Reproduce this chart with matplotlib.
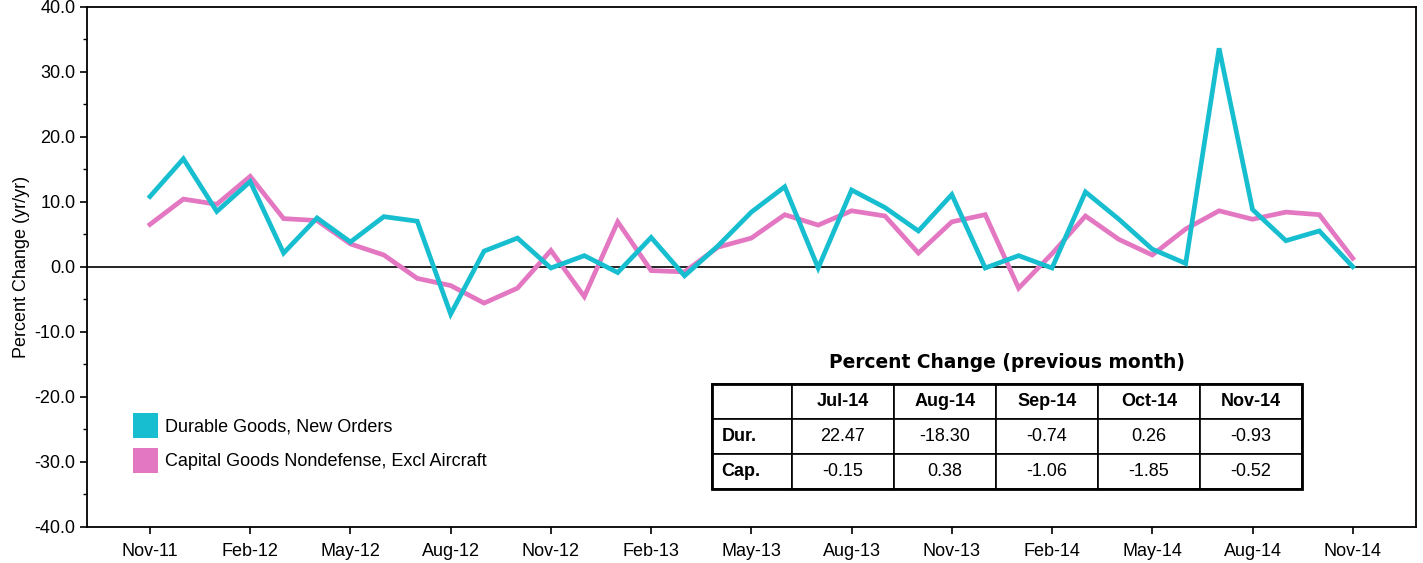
import numpy as np
import matplotlib.pyplot as plt
from matplotlib.patches import Patch, Rectangle
from matplotlib.ticker import MultipleLocator, FormatStrFormatter

plt.rcParams['font.family'] = ['Liberation Sans', 'DejaVu Sans']

# Monthly data, Nov-11 .. Nov-14 (37 months)
durable = [10.8, 16.6, 8.5, 13.1, 2.1, 7.5, 3.8, 7.7, 7.0, -7.3,
           2.4, 4.4, -0.2, 1.7, -0.9, 4.5, -1.4, 3.2, 8.4, 12.3,
           -0.2, 11.8, 9.1, 5.5, 11.1, -0.2, 1.7, -0.2, 11.5, 7.3,
           2.7, 0.5, 33.6, 8.8, 4.0, 5.5, 0.0]
capital = [6.5, 10.4, 9.6, 13.9, 7.4, 7.1, 3.5, 1.8, -1.8, -2.9,
           -5.6, -3.3, 2.5, -4.6, 6.9, -0.6, -0.8, 3.0, 4.4, 8.0,
           6.4, 8.6, 7.8, 2.1, 6.9, 8.0, -3.3, 2.0, 7.8, 4.2,
           1.8, 5.8, 8.6, 7.3, 8.4, 8.0, 1.3]

tick_labels = ['Nov-11', 'Feb-12', 'May-12', 'Aug-12', 'Nov-12', 'Feb-13', 'May-13',
               'Aug-13', 'Nov-13', 'Feb-14', 'May-14', 'Aug-14', 'Nov-14']

# Table of month-over-month changes
table_months = ['Jul-14', 'Aug-14', 'Sep-14', 'Oct-14', 'Nov-14']
table_rows = ['Dur.', 'Cap.']
dur_mom = ['22.47', '-18.30', '-0.74', '0.26', '-0.93']
cap_mom = ['-0.15', '0.38', '-1.06', '-1.85', '-0.52']

c_dur = '#17becf'
c_cap = '#e377c2'

fig = plt.figure(figsize=(14.23, 5.63), dpi=100)
ax = fig.add_axes([0.0609, 0.0645, 0.9340, 0.9236])

x = np.arange(len(durable))
ax.plot(x, capital, color=c_cap, lw=3.4, solid_joinstyle='miter', zorder=3)
ax.plot(x, durable, color=c_dur, lw=3.4, solid_joinstyle='miter', zorder=4)
ax.axhline(0, color='black', lw=1.2, zorder=2)

ax.set_xlim(-1.895, 37.886)
ax.set_ylim(-40, 40)
ax.set_xticks(x[::3])
ax.set_xticklabels(tick_labels)
ax.yaxis.set_major_locator(MultipleLocator(10))
ax.yaxis.set_minor_locator(MultipleLocator(5))
ax.yaxis.set_major_formatter(FormatStrFormatter('%.1f'))
ax.tick_params(axis='both', which='major', labelsize=13, direction='out',
               length=5, width=1.2, color='black')
ax.tick_params(axis='y', which='minor', length=3, width=1.0)
ax.tick_params(axis='x', pad=7)
ax.tick_params(axis='y', pad=3)
for sp in ax.spines.values():
    sp.set_linewidth(1.3)
    sp.set_color('black')
ax.set_ylabel('Percent Change (yr/yr)', fontsize=13, labelpad=3)

# Legend
handles = [Patch(facecolor=c_dur, edgecolor='none', label='Durable Goods, New Orders'),
           Patch(facecolor=c_cap, edgecolor='none', label='Capital Goods Nondefense, Excl Aircraft')]
ax.legend(handles=handles, loc='upper left', bbox_to_anchor=(0.0345, 0.2187),
          frameon=False, fontsize=13, handlelength=1.39, handleheight=1.76,
          handletextpad=0.42, labelspacing=0.55, borderpad=0, borderaxespad=0)

# Table
col_w = [0.1356] + [0.1729] * 5
cells = [dur_mom, cap_mom]
cell_text = [[''] + table_months] + [[r] + v for r, v in zip(table_rows, cells)]
tb = ax.table(cellText=cell_text, cellLoc='center', colWidths=col_w,
              bbox=[0.4705, 0.0725, 0.4439, 0.2019], zorder=5)
tb.auto_set_font_size(False)
for (r, c), cell in tb.get_celld().items():
    cell.set_linewidth(1.2)
    cell.set_edgecolor('black')
    cell.set_facecolor('white')
    cell.get_text().set_fontsize(13)
    if r == 0 or c == 0:
        cell.get_text().set_fontweight('bold')
    if c == 0:
        cell.set_text_props(ha='left')
        cell.PAD = 0.12
ax.add_patch(Rectangle((0.4705, 0.0725), 0.4439, 0.2019, transform=ax.transAxes,
                       fill=False, edgecolor='black', lw=2.0, zorder=6))
ax.text(0.4705 + 0.4439 / 2, 0.3167, 'Percent Change (previous month)',
        transform=ax.transAxes, ha='center', va='center', fontsize=13.4,
        family='DejaVu Sans', fontweight='bold')

fig.savefig('out.png', dpi=100)
